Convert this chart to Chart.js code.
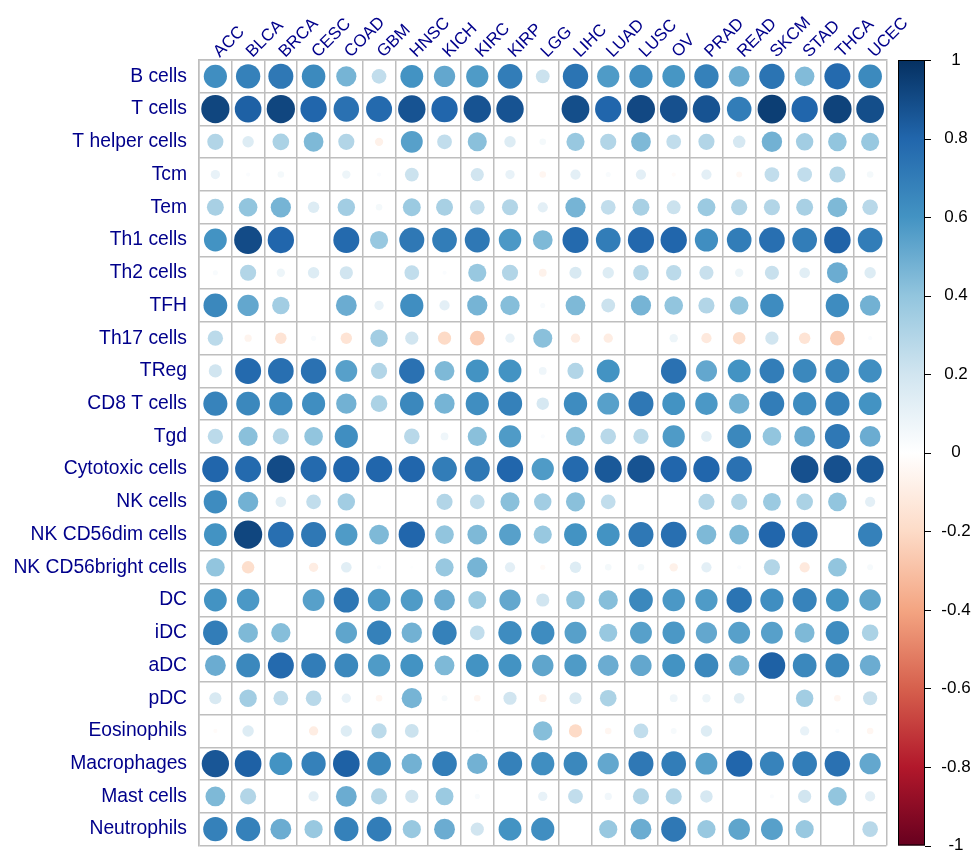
<!DOCTYPE html>
<html>
<head>
<meta charset="utf-8">
<script src="https://cdn.jsdelivr.net/npm/chart.js@4/dist/chart.umd.min.js"></script>
<style>
  html, body { margin: 0; padding: 0; background: #ffffff; }
  #wrap { width: 977px; height: 854px; }
</style>
</head>
<body>
<div id="wrap"><canvas id="c" width="977" height="854"></canvas></div>
<script>
// ---- categories ----
const cancerTypes = ["ACC","BLCA","BRCA","CESC","COAD","GBM","HNSC","KICH","KIRC","KIRP","LGG","LIHC","LUAD","LUSC","OV","PRAD","READ","SKCM","STAD","THCA","UCEC"];
const cellTypes = ["B cells","T cells","T helper cells","Tcm","Tem","Th1 cells","Th2 cells","TFH","Th17 cells","TReg","CD8 T cells","Tgd","Cytotoxic cells","NK cells","NK CD56dim cells","NK CD56bright cells","DC","iDC","aDC","pDC","Eosinophils","Macrophages","Mast cells","Neutrophils"];
const colorbarTicks = [1, 0.8, 0.6, 0.4, 0.2, 0, -0.2, -0.4, -0.6, -0.8, -1];

// ---- correlation values (null = blank cell), columns follow cancerTypes ----
const bCells        = [0.62,0.68,0.72,0.64,0.47,0.25,0.60,0.52,0.57,0.70,0.22,0.74,0.57,0.62,0.59,0.68,0.50,0.74,0.44,0.78,0.64];
const tCells        = [0.92,0.82,0.92,0.80,0.75,0.78,0.87,0.80,0.87,0.87,null,0.89,0.80,0.91,0.88,0.87,0.70,0.95,0.80,0.93,0.89];
const tHelper       = [0.30,0.15,0.32,0.45,0.30,-0.08,0.55,0.25,0.42,0.15,0.05,0.38,0.30,0.45,0.25,0.30,0.18,0.48,0.35,0.40,0.38];
const tcm           = [0.10,0.02,0.05,null,0.08,0.02,0.22,null,0.20,0.10,-0.05,0.12,0.03,0.12,-0.02,0.12,-0.04,0.25,0.25,0.30,0.05];
const tem           = [0.33,0.40,0.47,0.15,0.35,0.05,0.37,0.33,0.25,0.30,0.12,0.47,0.25,0.33,0.22,0.37,0.30,0.30,0.33,0.45,0.28];
const th1           = [0.60,0.90,0.80,null,0.78,0.38,0.72,0.70,0.72,0.58,0.45,0.78,0.70,0.79,0.80,0.62,0.70,0.76,0.70,0.81,0.70];
const th2           = [0.03,0.30,0.08,0.15,0.20,null,0.25,0.02,0.38,0.30,-0.07,0.17,0.15,0.28,0.27,0.23,0.08,0.23,0.13,0.50,0.15];
const tfh           = [0.65,0.52,0.35,null,0.50,0.10,0.62,0.12,0.47,0.43,0.03,0.45,0.22,0.47,0.40,0.30,0.40,0.63,null,0.63,0.48];
const th17          = [0.27,-0.06,-0.15,0.03,-0.15,0.35,0.20,-0.20,-0.25,0.10,0.42,-0.10,-0.10,null,0.08,-0.12,-0.18,0.20,-0.15,-0.25,0.02];
const tReg          = [0.20,0.78,0.76,0.75,0.55,0.30,0.75,0.45,0.60,0.60,0.07,0.30,0.60,null,0.75,0.52,0.60,0.70,0.65,0.66,0.62];
const cd8T          = [0.67,0.65,0.63,0.62,0.48,0.32,0.65,0.47,0.62,0.68,0.18,0.63,0.55,0.72,0.60,0.58,0.48,0.70,0.63,0.68,0.60];
const tgd           = [0.27,0.42,0.30,0.40,0.62,null,0.28,0.07,0.42,0.57,0.02,0.42,0.28,0.27,0.57,0.13,0.65,0.40,0.50,0.72,0.50];
const cytotoxic     = [0.80,0.78,0.90,0.78,0.80,0.80,0.80,0.70,0.72,0.80,0.57,0.78,0.85,0.87,0.80,0.80,0.75,null,0.88,0.88,0.85];
const nkCells       = [0.63,0.48,0.13,0.25,0.35,null,null,0.30,0.25,0.42,0.35,0.42,0.25,null,null,0.30,0.30,0.37,0.32,0.40,0.12];
const nkDim         = [0.60,0.92,0.76,0.72,0.57,0.45,0.80,0.40,0.45,0.55,0.38,0.60,0.60,0.72,0.76,0.45,0.45,0.80,0.77,null,0.68];
const nkBright      = [0.40,-0.18,null,-0.10,0.13,0.02,0.01,0.38,0.47,0.12,-0.03,0.15,0.05,0.05,-0.08,0.12,0.02,0.30,-0.12,0.40,0.04];
const dc            = [0.60,0.58,null,0.55,0.73,0.58,0.57,0.50,0.37,0.52,0.20,0.40,0.43,0.65,0.58,0.57,0.74,0.62,0.67,0.60,0.53];
const iDC           = [0.70,0.45,0.43,null,0.53,0.68,0.48,0.68,0.25,0.63,0.63,0.55,0.38,0.55,0.58,0.52,0.55,0.55,0.45,0.63,0.32];
const aDC           = [0.50,0.65,0.78,0.70,0.65,0.57,0.60,0.45,0.60,0.60,0.53,0.57,0.50,0.52,0.60,0.65,0.48,0.82,0.65,0.65,0.50];
const pDC           = [0.17,0.35,0.25,0.28,0.10,-0.05,0.47,0.04,-0.05,0.20,-0.07,0.17,0.32,null,0.07,0.08,0.13,null,0.35,-0.05,0.23];
const eosinophils   = [-0.02,0.15,null,-0.10,0.15,0.27,0.22,null,0.01,null,0.43,-0.20,-0.05,0.25,0.04,0.15,null,null,0.10,0.02,-0.05];
const macrophages   = [0.86,0.82,0.60,0.68,0.82,0.65,0.48,0.70,0.48,0.68,0.62,0.65,0.52,0.72,0.70,0.55,0.80,0.67,0.70,0.75,0.52];
const mastCells     = [0.45,0.30,null,0.12,0.50,0.30,0.20,0.37,0.03,null,0.10,0.25,0.06,0.30,0.30,0.18,null,0.02,0.20,0.40,0.12];
const neutrophils   = [0.68,0.68,0.50,0.38,0.68,0.70,0.38,0.50,0.20,0.60,0.62,null,0.38,0.50,0.72,0.38,0.53,0.55,0.38,null,0.28];

const rowValues = [bCells,tCells,tHelper,tcm,tem,th1,th2,tfh,th17,tReg,cd8T,tgd,cytotoxic,nkCells,nkDim,nkBright,dc,iDC,aDC,pDC,eosinophils,macrophages,mastCells,neutrophils];

// ---- RdBu palette (corrplot COL2) ----
const rdbu = ["#67001F","#B2182B","#D6604D","#F4A582","#FDDBC7","#FFFFFF","#D1E5F0","#92C5DE","#4393C3","#2166AC","#053061"];
function hexToRgb(h){return [parseInt(h.slice(1,3),16),parseInt(h.slice(3,5),16),parseInt(h.slice(5,7),16)];}
const rdbuRgb = rdbu.map(hexToRgb);
function colorFor(v){
  const t = (Math.max(-1,Math.min(1,v)) + 1) / 2 * (rdbuRgb.length - 1);
  const i = Math.min(rdbuRgb.length - 2, Math.floor(t));
  const f = t - i;
  const a = rdbuRgb[i], b = rdbuRgb[i+1];
  return `rgb(${Math.round(a[0]+(b[0]-a[0])*f)},${Math.round(a[1]+(b[1]-a[1])*f)},${Math.round(a[2]+(b[2]-a[2])*f)})`;
}

const points = [];
rowValues.forEach((arr, ri) => {
  arr.forEach((v, ci) => {
    if (v !== null) points.push({x: cancerTypes[ci], y: cellTypes[ri], v: v});
  });
});

const FONT = "'Liberation Sans', Arial, Helvetica, sans-serif";
const LABEL_COLOR = "#00008B";
const GRID_COLOR = "#BEBEBE";
const CELL_PX = (886.5 - 199) / cancerTypes.length;

// column labels drawn at 45 degrees above the grid, positioned by the x scale
const columnLabelPlugin = {
  id: 'columnLabels',
  afterDraw(chart) {
    const ctx = chart.ctx;
    const xs = chart.scales.x;
    const top = chart.chartArea.top;
    ctx.save();
    ctx.font = "17px " + FONT;
    ctx.fillStyle = LABEL_COLOR;
    ctx.textAlign = "left";
    ctx.textBaseline = "alphabetic";
    cancerTypes.forEach((lab, i) => {
      const x = xs.getPixelForTick(i);
      ctx.save();
      ctx.translate(x + 4.5, top - 2);
      ctx.rotate(-Math.PI / 4);
      ctx.fillText(lab, 0, 0);
      ctx.restore();
    });
    ctx.restore();
  }
};

const colorbarPlugin = {
  id: 'colorbar',
  afterDraw(chart) {
    const ctx = chart.ctx;
    const area = chart.chartArea;
    const x0 = 898, x1 = 925;
    const top = area.top, bottom = area.bottom;
    const grad = ctx.createLinearGradient(0, bottom, 0, top);
    rdbu.forEach((c, i) => grad.addColorStop(i / (rdbu.length - 1), c));
    ctx.save();
    ctx.fillStyle = grad;
    ctx.fillRect(x0, top, x1 - x0, bottom - top);
    ctx.strokeStyle = "#000000";
    ctx.lineWidth = 1;
    ctx.strokeRect(x0 + 0.5, top + 0.5, x1 - x0 - 1, bottom - top - 1);
    ctx.font = "17px " + FONT;
    ctx.fillStyle = "#000000";
    ctx.textAlign = "center";
    ctx.textBaseline = "middle";
    colorbarTicks.forEach(t => {
      const y = bottom - (t + 1) / 2 * (bottom - top);
      ctx.beginPath();
      ctx.moveTo(x1, Math.round(y) + 0.5);
      ctx.lineTo(x1 + 6, Math.round(y) + 0.5);
      ctx.stroke();
      ctx.fillText(String(t), 956, y);
    });
    ctx.restore();
  }
};

new Chart(document.getElementById('c'), {
  type: 'bubble',
  data: {
    datasets: [{
      data: points,
      backgroundColor: ctx => (ctx.raw && typeof ctx.raw.v === 'number') ? colorFor(ctx.raw.v) : 'rgba(0,0,0,0)',
      borderWidth: 0,
      radius: ctx => {
        if (!ctx.raw || typeof ctx.raw.v !== 'number') return 0;
        const a = ctx.chart.chartArea;
        const cw = a ? (a.right - a.left) / cancerTypes.length : CELL_PX;
        return 0.45 * Math.sqrt(Math.abs(ctx.raw.v)) * cw;
      },
      hoverRadius: 0,
      clip: false
    }]
  },
  options: {
    responsive: false,
    animation: false,
    events: [],
    layout: { autoPadding: false, padding: { left: 0, right: 90.5, top: 0, bottom: 8.5 } },
    plugins: { legend: { display: false }, tooltip: { enabled: false } },
    scales: {
      x: {
        type: 'category',
        labels: cancerTypes,
        position: 'top',
        offset: true,
        grid: { offset: true, color: GRID_COLOR, lineWidth: 1.5, drawTicks: false },
        border: { display: true, color: GRID_COLOR, width: 1.5 },
        ticks: { display: false, autoSkip: false },
        afterFit: s => { s.height = 60; s.paddingLeft = 0; s.paddingRight = 0; }
      },
      y: {
        type: 'category',
        labels: cellTypes,
        offset: true,
        grid: { offset: true, color: GRID_COLOR, lineWidth: 1.5, drawTicks: false },
        border: { display: true, color: GRID_COLOR, width: 1.5 },
        ticks: {
          autoSkip: false, padding: 12,
          color: LABEL_COLOR, font: { family: FONT, size: 19.3 }
        },
        afterFit: s => { s.width = 199; s.paddingTop = 0; s.paddingBottom = 0; }
      }
    }
  },
  plugins: [columnLabelPlugin, colorbarPlugin]
});
</script>
</body>
</html>
